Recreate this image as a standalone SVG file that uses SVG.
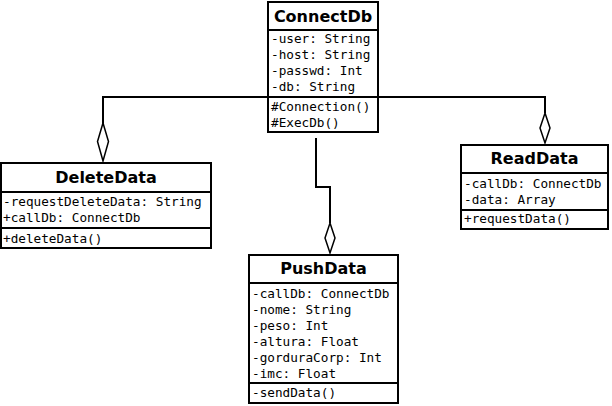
<svg xmlns="http://www.w3.org/2000/svg" width="612" height="406" viewBox="0 0 612 406">
<style>
.box{fill:#fff;stroke:#000;stroke-width:2}
.sep{stroke:#000;stroke-width:2}
.t{font-family:"DejaVu Sans",sans-serif;font-weight:bold;font-size:16px;text-anchor:middle;fill:#000}
.m{font-family:"DejaVu Sans Mono",monospace;font-size:12.7px;fill:#000}
.c{fill:none;stroke:#000;stroke-width:2}
.d{fill:#fff;stroke:#000;stroke-width:1.5}
</style>
<rect width="612" height="406" fill="#fff"/>
<g id="connectors">
<polyline class="c" points="103,124 103,97 545,97 545,113"/>
<polyline class="c" points="316,138 316,187 330,187 330,223"/>
<polygon class="d" points="103,123 108.5,141.5 103,161 97.5,141.5"/>
<polygon class="d" points="545,113 550,128 545,143 540,128"/>
<polygon class="d" points="330,223 335,238 330,253 325,238"/>
</g>
<g id="ConnectDb">
<rect class="box" x="268" y="2" width="110" height="130"/>
<line class="sep" x1="268" y1="30" x2="378" y2="30"/>
<text class="t" x="323" y="22">ConnectDb</text>
<text class="m" x="271" y="43">-user: String</text>
<text class="m" x="271" y="59">-host: String</text>
<text class="m" x="271" y="75">-passwd: Int</text>
<text class="m" x="271" y="91">-db: String</text>
<line class="sep" x1="268" y1="97" x2="378" y2="97"/>
<text class="m" x="271" y="111">#Connection()</text>
<text class="m" x="271" y="127">#ExecDb()</text>
</g>
<g id="DeleteData">
<rect class="box" x="1" y="163" width="210" height="85"/>
<line class="sep" x1="1" y1="192" x2="211" y2="192"/>
<text class="t" x="106" y="183">DeleteData</text>
<text class="m" x="3" y="206">-requestDeleteData: String</text>
<text class="m" x="3" y="222">+callDb: ConnectDb</text>
<line class="sep" x1="1" y1="228" x2="211" y2="228"/>
<text class="m" x="3" y="243">+deleteData()</text>
</g>
<g id="ReadData">
<rect class="box" x="461" y="145" width="147" height="84"/>
<line class="sep" x1="461" y1="173" x2="608" y2="173"/>
<text class="t" x="534.5" y="164">ReadData</text>
<text class="m" x="464" y="188">-callDb: ConnectDb</text>
<text class="m" x="464" y="204">-data: Array</text>
<line class="sep" x1="461" y1="210" x2="608" y2="210"/>
<text class="m" x="464" y="223">+requestData()</text>
</g>
<g id="PushData">
<rect class="box" x="249" y="255" width="149" height="148"/>
<line class="sep" x1="249" y1="283" x2="398" y2="283"/>
<text class="t" x="323.5" y="274">PushData</text>
<text class="m" x="252" y="298">-callDb: ConnectDb</text>
<text class="m" x="252" y="314">-nome: String</text>
<text class="m" x="252" y="330">-peso: Int</text>
<text class="m" x="252" y="346">-altura: Float</text>
<text class="m" x="252" y="362">-gorduraCorp: Int</text>
<text class="m" x="252" y="378">-imc: Float</text>
<line class="sep" x1="249" y1="383" x2="398" y2="383"/>
<text class="m" x="252" y="397">-sendData()</text>
</g>
</svg>
